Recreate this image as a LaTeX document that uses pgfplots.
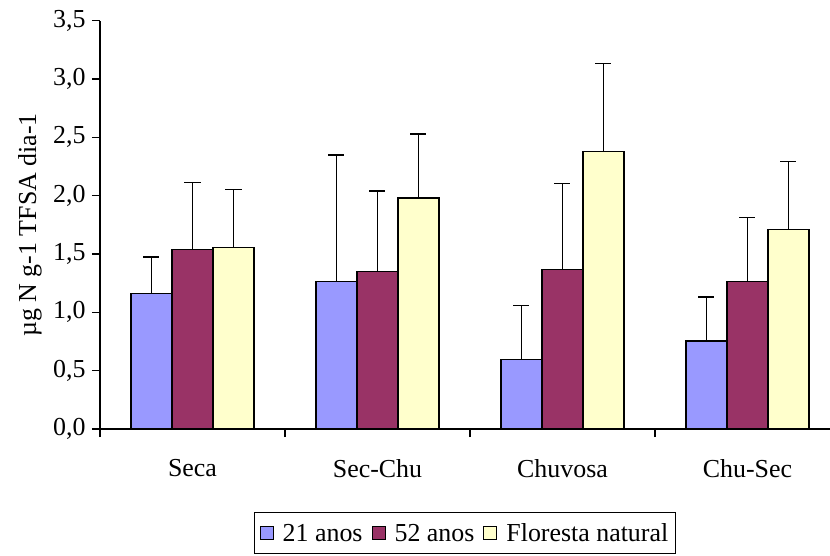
\documentclass[border=0pt]{standalone}
\usepackage{pgfplots}
\pgfplotsset{compat=1.18}
\usepackage{fontspec}
\setmainfont{Liberation Serif}
\definecolor{c1}{HTML}{9999FF}
\definecolor{c2}{HTML}{993366}
\definecolor{c3}{HTML}{FFFFCC}
\begin{document}
\begin{tikzpicture}
\useasboundingbox (0,0) rectangle (830bp,556bp);
\begin{axis}[
  at={(100bp,127bp)}, anchor=south west,
  scale only axis, width=730bp, height=408.3bp,
  xmin=-0.5, xmax=3.446, ymin=0, ymax=3.5,
  axis x line*=bottom, axis y line*=left,
  axis line style={line width=1.2pt},
  font=\fontsize{26}{30}\selectfont,
  /pgf/number format/assume math mode=true,
  yticklabel style={/pgf/number format/use comma, /pgf/number format/fixed, /pgf/number format/fixed zerofill, /pgf/number format/precision=1, xshift=-3bp},
  ytick={0,0.5,1,1.5,2,2.5,3,3.5},
  xtick={-0.5,0.5,1.5,2.5}, xticklabels={},
  extra x ticks={0,1,2,3},
  extra x tick labels={Seca,Sec-Chu,Chuvosa,Chu-Sec},
  extra x tick style={major tick length=0pt, xticklabel style={yshift=-27bp}},
  tick align=outside, major tick length=8bp,
  tick style={black, line width=1.2pt},
  ylabel={µg N g-1 TFSA dia-1},
  ylabel style={at={(axis description cs:-0.096,0.5)}, anchor=center},
  ybar=0pt, bar width=41bp,
  legend columns=3,
  legend style={at={(0.5,-0.2033)}, anchor=north, draw=black, line width=1pt,
    font=\fontsize{26}{30}\selectfont, inner xsep=5bp, inner ysep=9bp,
    /tikz/every odd column/.append style={column sep=7bp},
    /tikz/every even column/.append style={column sep=7bp}},
  legend image code/.code={\draw[#1, line width=1pt] (0bp,-6.5bp) rectangle (13bp,6.5bp);},
  error bars/y dir=plus, error bars/y explicit,
  error bars/error bar style={line width=1.3pt, black},
  error bars/error mark options={rotate=90, black, mark size=8bp, line width=1.3pt},
]
\addplot[fill=c1, draw=black, line width=1.3pt] table[x=x, y=y, y error=e] {
x y e
0 1.163 0.311
1 1.262 1.088
2 0.597 0.463
3 0.754 0.377
};
\addplot[fill=c2, draw=black, line width=1.3pt] table[x=x, y=y, y error=e] {
x y e
0 1.540 0.570
1 1.348 0.692
2 1.369 0.737
3 1.266 0.549
};
\addplot[fill=c3, draw=black, line width=1.3pt] table[x=x, y=y, y error=e] {
x y e
0 1.557 0.493
1 1.980 0.550
2 2.377 0.757
3 1.711 0.583
};
\legend{21 anos, 52 anos, Floresta natural}
\end{axis}
\end{tikzpicture}
\end{document}
